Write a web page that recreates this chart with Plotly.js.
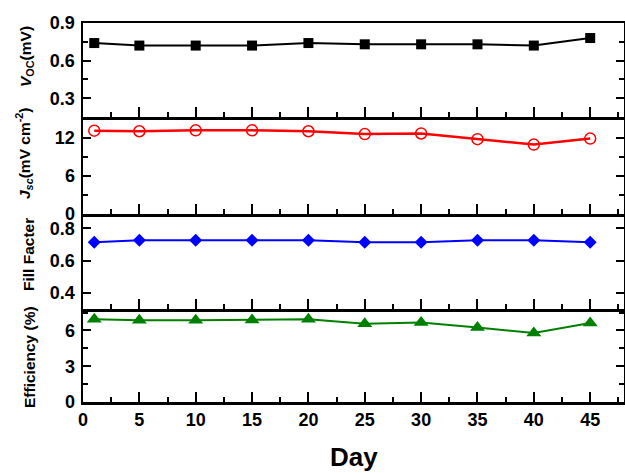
<!DOCTYPE html>
<html>
<head>
<meta charset="utf-8">
<script src="https://cdn.plot.ly/plotly-3.0.1.min.js"></script>
<style>html,body{margin:0;padding:0;background:#fff;}#chart{width:625px;height:473px;}</style>
</head>
<body>
<div id="chart"></div>
<script>
// ---- data ----
const days = [1, 5, 10, 15, 20, 25, 30, 35, 40, 45];
const voc  = [0.74, 0.72, 0.72, 0.72, 0.74, 0.73, 0.73, 0.73, 0.72, 0.78];
const jsc  = [13.15, 13.05, 13.2, 13.2, 13.05, 12.6, 12.7, 11.8, 10.95, 11.9];
const ff   = [0.715, 0.727, 0.727, 0.727, 0.727, 0.715, 0.715, 0.727, 0.727, 0.715];
const eff  = [6.95, 6.86, 6.86, 6.88, 6.95, 6.56, 6.67, 6.25, 5.78, 6.62];
const xTitle = 'Day';
const yTitles = ['<i>V</i><sub>OC</sub>(mV)', '<i>J<sub>sc</sub></i>(mV cm<sup>-2</sup>)', 'Fill Facter', 'Efficiency (%)'];

// ---- layout geometry (pixels) ----
const W = 625, Hh = 473;
const L = 83, R = 624, T = 23, B = 402;
const bounds = [23, 117, 214, 309, 402]; // panel edges from top
const PH = B - T;
const frac = y => (B - y) / PH;

const FONT = 'Arial, "Liberation Sans", sans-serif';
const tickFont = {family: FONT, size: 18, color: '#000', weight: 'bold'};

function xaxis(i, showLabels) {
  return {
    domain: [0, 1], range: [0, 48], anchor: 'y' + (i === 1 ? '' : i),
    matches: i === 1 ? undefined : 'x',
    showline: true, linewidth: 2.5, linecolor: '#000', mirror: i === 1,
    ticks: 'inside', ticklen: 10, tickwidth: 2, tickcolor: '#000',
    tick0: 0, dtick: 5, showgrid: false, zeroline: false,
    showticklabels: showLabels, tickfont: tickFont,
    minor: {ticks: 'inside', ticklen: 5, tickwidth: 2, tickcolor: '#000', dtick: 2.5, showgrid: false}
  };
}
function yaxis(i, dom, range, tick0, dtick, minorDtick) {
  const ax = {
    domain: dom, range: range, anchor: 'x' + (i === 1 ? '' : i),
    showline: true, linewidth: 2.5, linecolor: '#000', mirror: 'ticks',
    ticks: 'inside', ticklen: 8, tickwidth: 2, tickcolor: '#000',
    tick0: tick0, dtick: dtick, showgrid: false, zeroline: false,
    tickfont: tickFont, ticklabelstandoff: 2
  };
  if (minorDtick) ax.minor = {ticks: 'inside', ticklen: 5, tickwidth: 2, tickcolor: '#000', dtick: minorDtick, showgrid: false};
  return ax;
}

const traces = [
  {x: days, y: voc, xaxis: 'x', yaxis: 'y', mode: 'lines+markers', type: 'scatter',
   line: {color: '#000', width: 2}, marker: {symbol: 'square', size: 10, color: '#000'}},
  {x: days, y: jsc, xaxis: 'x2', yaxis: 'y2', mode: 'lines+markers', type: 'scatter',
   line: {color: '#ff0000', width: 2.5}, marker: {symbol: 'circle-open', size: 11, color: '#ff0000', line: {width: 1.5, color: '#ff0000'}}},
  {x: days, y: ff, xaxis: 'x3', yaxis: 'y3', mode: 'lines+markers', type: 'scatter',
   line: {color: '#0000ff', width: 2}, marker: {symbol: 'diamond', size: 10, color: '#0000ff'}},
  {x: days, y: eff, xaxis: 'x4', yaxis: 'y4', mode: 'lines+markers', type: 'scatter',
   line: {color: '#008000', width: 2}, marker: {symbol: 'triangle-up', size: 13, color: '#008000'}}
];

const titleFont = {family: FONT, size: 15.5, color: '#000', weight: 'bold'};
const titleCenters = [[26, 57], [24, 153], [28, 255], [29, 357]];
const annotations = yTitles.map((t, k) => ({
  text: t, textangle: -90, showarrow: false, font: titleFont,
  xref: 'paper', yref: 'paper', x: 0, y: frac(titleCenters[k][1]),
  xanchor: 'center', yanchor: 'middle', xshift: titleCenters[k][0] - L
}));
annotations.push({
  text: xTitle, showarrow: false, font: {family: FONT, size: 26, color: '#000', weight: 'bold'},
  xref: 'paper', yref: 'paper', x: 0.5, y: 0, xanchor: 'center', yanchor: 'middle', yshift: -(457 - B)
});

const layout = {
  width: W, height: Hh,
  margin: {l: L, r: W - R, t: T, b: Hh - B, pad: 0},
  paper_bgcolor: '#fff', plot_bgcolor: '#fff',
  showlegend: false,
  font: {family: FONT, color: '#000'},
  xaxis: xaxis(1, false), xaxis2: xaxis(2, false), xaxis3: xaxis(3, false), xaxis4: xaxis(4, true),
  yaxis:  yaxis(1, [frac(bounds[1]), frac(bounds[0])], [0.15, 0.9], 0.3, 0.3, 0.15),
  yaxis2: yaxis(2, [frac(bounds[2]), frac(bounds[1])], [0, 15.3], 0, 6, 3),
  yaxis3: yaxis(3, [frac(bounds[3]), frac(bounds[2])], [0.3, 0.89], 0.4, 0.2, null),
  yaxis4: yaxis(4, [frac(bounds[4]), frac(bounds[3])], [0, 7.8], 0, 3, 1.5),
  annotations: annotations
};

Plotly.newPlot('chart', traces, layout, {displayModeBar: false, staticPlot: true});
</script>
</body>
</html>
